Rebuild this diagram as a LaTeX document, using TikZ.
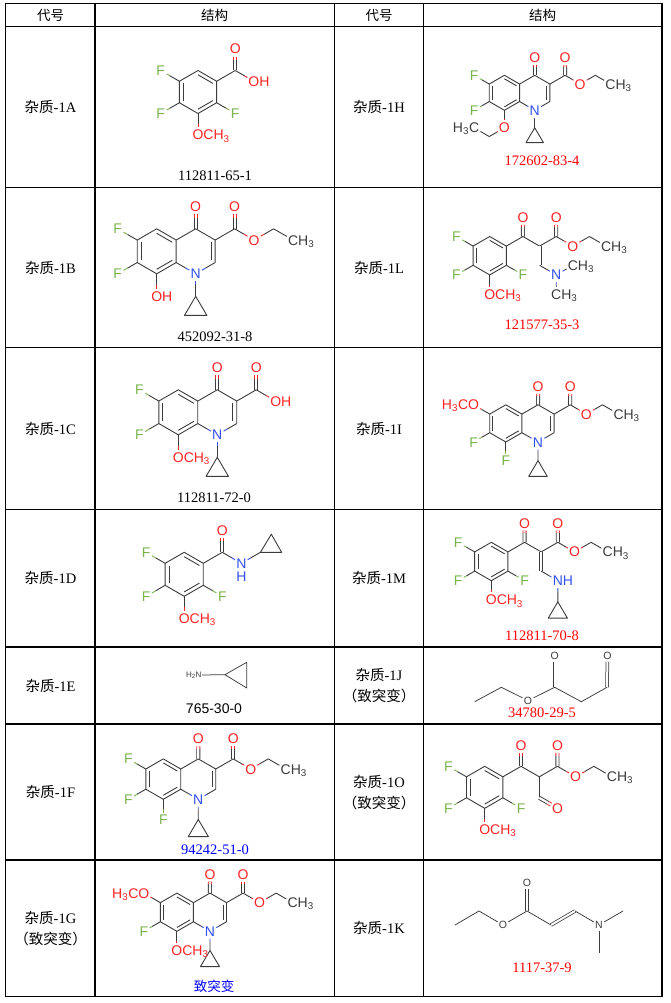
\documentclass[tikz,border=0pt]{standalone}
\usepackage{fontspec}
\setmainfont{Liberation Serif}
\setsansfont{Liberation Sans}
\newfontfamily\cjk{Noto Sans CJK SC}
\usetikzlibrary{calc}
\definecolor{bondc}{RGB}{60,60,60}
\definecolor{atO}{RGB}{255,35,35}
\definecolor{atF}{RGB}{120,180,75}
\definecolor{atN}{RGB}{50,80,240}
\definecolor{casred}{RGB}{255,0,0}
\definecolor{casblue}{RGB}{0,0,255}
\tikzset{
  grid/.style={line width=1.2pt, black},
  bond/.style={color=bondc, line width=0.9pt, line join=round},
  thinbond/.style={color=bondc, line width=0.75pt, line join=round},
  atom/.style={circle, inner sep=0pt, font=\sffamily\fontsize{14}{14}\selectfont, text height=10pt, text depth=0pt},
  aO/.style={atom, text=atO},
  aF/.style={atom, text=atF},
  aN/.style={atom, text=atN},
  aC/.style={atom, text=bondc},
  small/.style={circle, inner sep=0.3pt, font=\sffamily\fontsize{10.5}{10.5}\selectfont, text height=7.5pt, text depth=0pt, text=bondc},
  cas/.style={font=\fontsize{14.5}{15}\selectfont},
  lab/.style={font=\fontsize{14.5}{15}\selectfont},
  hdr/.style={font=\cjk\fontsize{13.5}{14}\selectfont},
}
\newcommand\hb[4]{\draw[bond,#3] ($(#1)!.5!(#2)$) -- (#1); \draw[bond,#4] ($(#1)!.5!(#2)$) -- (#2);}
\newcommand\dbo[3]{\draw[bond,double=white,double distance=2.2pt] ($(#1)!.5!(#2)$) -- (#1); \draw[bond,#3,double=white,double distance=2.2pt] ($(#1)!.5!(#2)$) -- (#2);}
\newcommand\inr[3]{\draw[bond] ($(#1)!.2!(#3)$) -- ($(#2)!.2!(#3)$);}
\newcommand\sub[6]{\node[#4] (#1) at (#3) {#6}; \hb{#2}{#1}{bondc}{#5}}
% quinolone core
\newcommand\qcore[1]{%
 \coordinate (#1lc) at (0,0); \coordinate (#1rc) at (1.732,0);
 \coordinate (#1c5) at (0,1); \coordinate (#1c4a) at (0.866,0.5);
 \coordinate (#1c8a) at (0.866,-0.5); \coordinate (#1c8) at (0,-1);
 \coordinate (#1c7) at (-0.866,-0.5); \coordinate (#1c6) at (-0.866,0.5);
 \coordinate (#1c4) at (1.732,1); \coordinate (#1c3) at (2.598,0.5);
 \coordinate (#1c2) at (2.598,-0.5); \coordinate (#1ce) at (3.464,1);
 \coordinate (#1cp) at (1.732,-2); \coordinate (#1cpa) at (1.232,-2.85); \coordinate (#1cpb) at (2.232,-2.85);
 \node[aN] (#1n) at (1.732,-1) {N};
 \node[aO] (#1ok) at (1.732,2) {O};
 \node[aO] (#1oe) at (3.464,2) {O};
 \dbo{#1c4}{#1ok}{atO}
 \dbo{#1ce}{#1oe}{atO}
 \draw[bond] (#1c6) -- (#1c5) -- (#1c4a) -- (#1c8a) -- (#1c8) -- (#1c7) -- cycle;
 \draw[bond] (#1c4a) -- (#1c4) -- (#1c3) -- (#1c2);
 \draw[bond] (#1c3) -- (#1ce);
 \hb{#1c2}{#1n}{bondc}{atN}
 \hb{#1c8a}{#1n}{bondc}{atN}
 \hb{#1cp}{#1n}{bondc}{atN}
 \draw[bond] (#1cp) -- (#1cpa) -- (#1cpb) -- cycle;
 \inr{#1c5}{#1c4a}{#1lc}
 \inr{#1c6}{#1c7}{#1lc}
 \inr{#1c8}{#1c8a}{#1lc}
 \inr{#1c3}{#1c2}{#1rc}
}
% ethyl ester tail
\newcommand\qet[1]{%
 \node[aO] (#1os) at (4.33,0.5) {O};
 \coordinate (#1ch2) at (5.196,1);
 \node[aC] (#1me) at (6.062,0.5) {C\rlap{H\textsubscript{3}}};
 \hb{#1ce}{#1os}{bondc}{atO}
 \hb{#1ch2}{#1os}{bondc}{atO}
 \draw[bond] (#1ch2) -- (#1me);
}
% trifluoro-methoxy benzoyl core
\newcommand\bcore[1]{%
 \coordinate (#1c) at (0,0);
 \coordinate (#1a1) at (0,1); \coordinate (#1a2) at (0.866,0.5); \coordinate (#1a3) at (0.866,-0.5);
 \coordinate (#1a4) at (0,-1); \coordinate (#1a5) at (-0.866,-0.5); \coordinate (#1a6) at (-0.866,0.5);
 \coordinate (#1k) at (1.732,1);
 \node[aO] (#1ko) at (1.732,2) {O};
 \dbo{#1k}{#1ko}{atO}
 \draw[bond] (#1a1) -- (#1a2) -- (#1a3) -- (#1a4) -- (#1a5) -- (#1a6) -- cycle;
 \inr{#1a1}{#1a2}{#1c} \inr{#1a3}{#1a4}{#1c} \inr{#1a5}{#1a6}{#1c}
 \sub{#1f6}{#1a6}{-1.732,1}{aF}{atF}{F}
 \sub{#1f5}{#1a5}{-1.732,-1}{aF}{atF}{F}
 \sub{#1f3}{#1a3}{1.732,-1}{aF}{atF}{F}
 \sub{#1om}{#1a4}{0,-2}{aO}{atO}{O\rlap{CH\textsubscript{3}}}
 \draw[bond] (#1a2) -- (#1k);
}
% keto-ester chain on benzoyl
\newcommand\best[1]{%
 \coordinate (#1ca) at (2.598,0.5); \coordinate (#1ce) at (3.464,1);
 \coordinate (#1cb) at (2.598,-0.5);
 \node[aO] (#1oe) at (3.464,2) {O};
 \dbo{#1ce}{#1oe}{atO}
 \draw[bond] (#1k) -- (#1ca) -- (#1ce);
 \qet{#1}
}
\begin{document}
\begin{tikzpicture}[x=1pt,y=-1pt]
\useasboundingbox (0,0) rectangle (670,1003);
\fill[white] (0,0) rectangle (670,1003);
% ---------- grid
\draw[grid] (5.5,3.5) rectangle (662,996.5);
\foreach \xx in {95,334.5,423.5} \draw[grid] (\xx,3.5) -- (\xx,996.5);
\foreach \yy in {26.5,187.5,347.5,509.5,647,724,860} \draw[grid] (5.5,\yy) -- (662,\yy);
% ---------- header
\node[hdr] (h1) at (50.5,15) {代号};
\node[hdr] (h2) at (214.5,15) {结构};
\node[hdr] (h3) at (379,15) {代号};
\node[hdr] (h4) at (542.5,15) {结构};
% ---------- row labels
\node[lab] (tA) at (50.5,107) {{\cjk 杂质}-1A};
\node[lab] (tB) at (50.5,267.5) {{\cjk 杂质}-1B};
\node[lab] (tC) at (50.5,428.5) {{\cjk 杂质}-1C};
\node[lab] (tD) at (50.5,578) {{\cjk 杂质}-1D};
\node[lab] (tE) at (50.5,685.5) {{\cjk 杂质}-1E};
\node[lab] (tF) at (50.5,792) {{\cjk 杂质}-1F};
\node[lab] (tG) at (50.5,918) {{\cjk 杂质}-1G};
\node[lab] (tG2) at (50.5,939) {\cjk （致突变）};
\node[lab] (tH) at (379,107) {{\cjk 杂质}-1H};
\node[lab] (tL) at (379,267.5) {{\cjk 杂质}-1L};
\node[lab] (tI) at (379,428.5) {{\cjk 杂质}-1I};
\node[lab] (tM) at (379,578) {{\cjk 杂质}-1M};
\node[lab] (tJ) at (379,675) {{\cjk 杂质}-1J};
\node[lab] (tJ2) at (379,696) {\cjk （致突变）};
\node[lab] (tO) at (379,781.5) {{\cjk 杂质}-1O};
\node[lab] (tO2) at (379,802.5) {\cjk （致突变）};
\node[lab] (tK) at (379,928) {{\cjk 杂质}-1K};
% ---------- CAS numbers
\node[cas] (nA) at (215,176) {112811-65-1};
\node[cas,text=casred] (nH) at (542,161) {172602-83-4};
\node[cas] (nB) at (215,337) {452092-31-8};
\node[cas,text=casred] (nL) at (542,325) {121577-35-3};
\node[cas] (nC) at (214,498) {112811-72-0};
\node[cas,text=casred] (nM) at (542,636) {112811-70-8};
\node[font=\sffamily\fontsize{14}{14}\selectfont] (nE) at (214,709) {765-30-0};
\node[cas,text=casred] (nJ) at (542,713) {34780-29-5};
\node[cas,text=casblue] (nF) at (215,850) {94242-51-0};
\node[hdr,text=casblue] (nG) at (214,986) {致突变};
\node[cas,text=casred] (nK) at (542,968) {1117-37-9};
% ---------- 1A
\begin{scope}[shift={(198pt,-92pt)}, x=21.5pt, y=21.5pt]
 \bcore{A}
 \node[aO] (Aoh) at (2.598,0.5) {O\rlap{H}};
 \hb{Ak}{Aoh}{bondc}{atO}
\end{scope}
% ---------- 1H
\begin{scope}[shift={(504.4pt,-92.8pt)}, x=17.5pt, y=17.5pt]
 \qcore{H} \qet{H}
 \sub{HF6}{Hc6}{-1.732,1}{aF}{atF}{F}
 \sub{HF7}{Hc7}{-1.732,-1}{aF}{atF}{F}
 \sub{HO8}{Hc8}{0,-2}{aO}{atO}{O}
 \coordinate (Hx2) at (-0.866,-2.5);
 \node[aC] (Hx3) at (-1.732,-2) {\llap{H\textsubscript{3}}C};
 \hb{Hx2}{HO8}{bondc}{atO}
 \draw[bond] (Hx2) -- (Hx3);
\end{scope}
% ---------- 1B
\begin{scope}[shift={(156.7pt,-251.3pt)}, x=22.5pt, y=22.5pt]
 \qcore{B} \qet{B}
 \sub{BF6}{Bc6}{-1.732,1}{aF}{atF}{F}
 \sub{BF7}{Bc7}{-1.732,-1}{aF}{atF}{F}
 \sub{BO8}{Bc8}{0,-2}{aO}{atO}{O\rlap{H}}
\end{scope}
% ---------- 1L
\begin{scope}[shift={(489.7pt,-255.7pt)}, x=19.2pt, y=19.2pt]
 \bcore{L} \best{L}
 \draw[bond,double=white,double distance=2.2pt] (Lca) -- (Lcb);
 \node[aN] (Ln) at (3.464,-1) {N};
 \hb{Lcb}{Ln}{bondc}{atN}
 \node[aC] (Lm1) at (4.33,-0.5) {C\rlap{H\textsubscript{3}}};
 \node[aC] (Lm2) at (3.464,-2) {C\rlap{H\textsubscript{3}}};
 \hb{Lm1}{Ln}{bondc}{atN}
 \hb{Lm2}{Ln}{bondc}{atN}
\end{scope}
% ---------- 1C
\begin{scope}[shift={(178.3pt,-412.3pt)}, x=22.5pt, y=22.5pt]
 \qcore{C}
 \node[aO] (Coh) at (4.33,0.5) {O\rlap{H}};
 \hb{Cce}{Coh}{bondc}{atO}
 \sub{CF6}{Cc6}{-1.732,1}{aF}{atF}{F}
 \sub{CF7}{Cc7}{-1.732,-1}{aF}{atF}{F}
 \sub{CO8}{Cc8}{0,-2}{aO}{atO}{O\rlap{CH\textsubscript{3}}}
\end{scope}
% ---------- 1I
\begin{scope}[shift={(505.8pt,-423.4pt)}, x=18.6pt, y=18.6pt]
 \qcore{I} \qet{I}
 \sub{IO6}{Ic6}{-1.732,1}{aO}{atO}{\llap{H\textsubscript{3}C}O}
 \sub{IF7}{Ic7}{-1.732,-1}{aF}{atF}{F}
 \sub{IF8}{Ic8}{0,-2}{aF}{atF}{F}
\end{scope}
% ---------- 1D
\begin{scope}[shift={(184.2pt,-574.3pt)}, x=22pt, y=22pt]
 \bcore{D}
 \node[aN] (Dn) at (2.598,0.5) {N};
 \node[aN] (Dnh) at ($(Dn)+(0pt,-13.5pt)$) {H};
 \hb{Dk}{Dn}{bondc}{atN}
 \coordinate (Dp) at (3.464,1); \coordinate (Dp1) at (3.96,1.82); \coordinate (Dp2) at (4.43,1);
 \hb{Dp}{Dn}{bondc}{atN}
 \draw[bond] (Dp) -- (Dp1) -- (Dp2) -- cycle;
\end{scope}
% ---------- 1M
\begin{scope}[shift={(491.3pt,-561.5pt)}, x=19.2pt, y=19.2pt]
 \bcore{M} \best{M}
 \draw[bond,double=white,double distance=2.2pt] (Mca) -- (Mcb);
 \node[aN] (Mn) at (3.464,-1) {N\rlap{H}};
 \hb{Mcb}{Mn}{bondc}{atN}
 \coordinate (Mp) at (3.464,-2.1); \coordinate (Mp1) at (2.964,-2.95); \coordinate (Mp2) at (3.964,-2.95);
 \hb{Mp}{Mn}{bondc}{atN}
 \draw[bond] (Mp) -- (Mp1) -- (Mp2) -- cycle;
\end{scope}
% ---------- 1E
\node[inner sep=0.6pt, font=\sffamily\fontsize{8}{8}\selectfont, text=bondc] (En) at (198.5,675) {\llap{H\textsubscript{2}}N};
\coordinate (E1) at (225,674.7); \coordinate (E2) at (246.7,662.3); \coordinate (E3) at (246.7,688);
\draw[thinbond] (En) -- (E1);
\draw[thinbond] (E1) -- (E2) -- (E3) -- cycle;
% ---------- 1J
\coordinate (J1) at (474.7,701.7); \coordinate (J2) at (501.3,687.3);
\node[small] (JO) at (528,700.5) {O};
\coordinate (J3) at (554.7,687.3);
\node[small] (JO1) at (554.7,655.7) {O};
\coordinate (J4) at (581.3,701.7); \coordinate (J5) at (607,687.3);
\node[small] (JO2) at (607.5,655.7) {O};
\draw[thinbond,double=white,double distance=2pt] (J3) -- (JO1);
\draw[thinbond,double=white,double distance=2pt] (J5) -- (JO2);
\draw[thinbond] (J1) -- (J2) -- (JO);
\draw[thinbond] (JO) -- (J3) -- (J4) -- (J5);
% ---------- 1F
\begin{scope}[shift={(163.3pt,-779.1pt)}, x=20.2pt, y=20.2pt]
 \qcore{F} \qet{F}
 \sub{FF6}{Fc6}{-1.732,1}{aF}{atF}{F}
 \sub{FF7}{Fc7}{-1.732,-1}{aF}{atF}{F}
 \sub{FF8}{Fc8}{0,-2}{aF}{atF}{F}
\end{scope}
% ---------- 1O
\begin{scope}[shift={(484.7pt,-787.3pt)}, x=21pt, y=21pt]
 \bcore{Q} \best{Q}
 \draw[bond] (Qca) -- (Qcb);
 \node[aO] (Qald) at (3.464,-1) {O};
 \dbo{Qcb}{Qald}{atO}
\end{scope}
% ---------- 1G
\begin{scope}[shift={(176.9pt,-912.2pt)}, x=19.1pt, y=19.1pt]
 \qcore{G} \qet{G}
 \sub{GO6}{Gc6}{-1.732,1}{aO}{atO}{\llap{H\textsubscript{3}C}O}
 \sub{GF7}{Gc7}{-1.732,-1}{aF}{atF}{F}
 \sub{GO8}{Gc8}{0,-2}{aO}{atO}{O\rlap{CH\textsubscript{3}}}
\end{scope}
% ---------- 1K
\coordinate (K1) at (455,925); \coordinate (K2) at (479,911);
\node[small] (KO) at (503,925) {O};
\coordinate (K3) at (527,911);
\node[small] (KO1) at (527,883) {O};
\coordinate (K4) at (551,925); \coordinate (K5) at (575,911);
\node[small] (KN) at (599,925) {N};
\coordinate (Km1) at (623,911); \coordinate (Km2) at (599,953);
\draw[thinbond,double=white,double distance=2pt] (K3) -- (KO1);
\draw[thinbond,double=white,double distance=2pt] (K4) -- (K5);
\draw[thinbond] (K1) -- (K2) -- (KO);
\draw[thinbond] (KO) -- (K3) -- (K4);
\draw[thinbond] (K5) -- (KN);
\draw[thinbond] (KN) -- (Km1);
\draw[thinbond] (KN) -- (Km2);
\end{tikzpicture}
\end{document}
